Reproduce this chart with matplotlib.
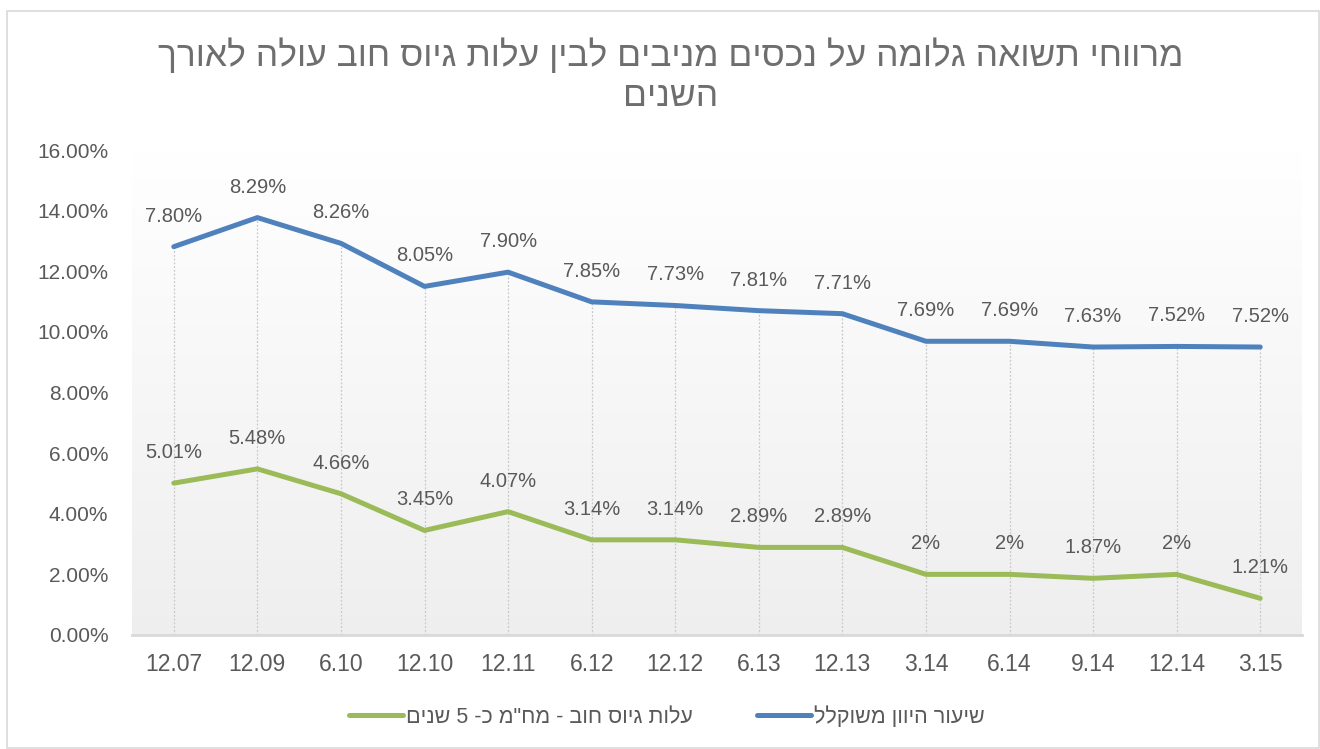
import numpy as np
from matplotlib import pyplot as plt
from matplotlib.patches import Rectangle

# categories (periods)
periods = ['12.07', '12.09', '6.10', '12.10', '12.11', '6.12', '12.12',
           '6.13', '12.13', '3.14', '6.14', '9.14', '12.14', '3.15']

# debt raising cost ~5 yr duration (%)
debt_cost = [5.01, 5.48, 4.66, 3.45, 4.07, 3.14, 3.14, 2.89, 2.89, 2.00, 2.00, 1.87, 2.00, 1.21]
debt_labels = ['5.01%', '5.48%', '4.66%', '3.45%', '4.07%', '3.14%', '3.14%',
               '2.89%', '2.89%', '2%', '2%', '1.87%', '2%', '1.21%']

# weighted discount rate, as plotted (%)
disc_rate = [12.81, 13.77, 12.92, 11.50, 11.97, 10.99, 10.87, 10.70, 10.60, 9.69, 9.69, 9.50, 9.52, 9.50]
disc_labels = ['7.80%', '8.29%', '8.26%', '8.05%', '7.90%', '7.85%', '7.73%',
               '7.81%', '7.71%', '7.69%', '7.69%', '7.63%', '7.52%', '7.52%']

yticks = [0, 2, 4, 6, 8, 10, 12, 14, 16]

title_1 = 'מרווחי תשואה גלומה על נכסים מניבים לבין עלות גיוס חוב עולה לאורך'
title_2 = 'השנים'
name_debt = 'עלות גיוס חוב - מח"מ כ- 5 שנים'
name_disc = 'שיעור היוון משוקלל'


def heb(s):
    # matplotlib has no bidi support, so reverse for visual order
    return s[::-1]


plt.rcParams['font.family'] = ['Liberation Sans', 'DejaVu Sans']
text_col = '#595959'
blue = '#4f81bd'
green = '#9bbb59'

fig = plt.figure(figsize=(13.2, 7.49), dpi=100)
fig.patches.append(Rectangle((7 / 1320, 0.001), 1 - 7 / 1320 - 0.001, 1 - 11 / 749 - 0.001,
                             transform=fig.transFigure, fill=False,
                             edgecolor='#d9d9d9', linewidth=1.2))

ax = fig.add_axes([132 / 1320, 1 - 635 / 749, 1170 / 1320, 485 / 749])
x = np.arange(len(periods))

# background gradient of the plot area
grad = np.linspace(1.0, 0.935, 256).reshape(-1, 1)
ax.imshow(np.dstack([grad, grad, grad]), extent=(-0.5, len(periods) - 0.5, 0, 16),
          aspect='auto', zorder=0)

# drop lines
ax.vlines(x, 0, disc_rate, colors='#c8c8c8', linestyles=(0, (1.5, 1.5)), linewidth=0.9, zorder=1)

l_debt, = ax.plot(x, debt_cost, color=green, linewidth=3.6, solid_capstyle='round', zorder=3)
l_disc, = ax.plot(x, disc_rate, color=blue, linewidth=3.6, solid_capstyle='round', zorder=3)

for i in range(len(periods)):
    ax.annotate(disc_labels[i], (x[i], disc_rate[i]), xytext=(0, 22), textcoords='offset points',
                ha='center', va='center', fontsize=14.5, color=text_col)
    ax.annotate(debt_labels[i], (x[i], debt_cost[i]), xytext=(0, 22), textcoords='offset points',
                ha='center', va='center', fontsize=14.5, color=text_col)

ax.set_xlim(-0.5, len(periods) - 0.5)
ax.set_ylim(0, 16)
ax.set_xticks(x)
ax.set_xticklabels(periods, fontsize=16.5, color=text_col)
ax.set_yticks(yticks)
ax.set_yticklabels(['%.2f%%' % v for v in yticks], fontsize=15, color=text_col)
ax.tick_params(axis='both', length=0)
ax.tick_params(axis='x', pad=13)
ax.tick_params(axis='y', pad=17)
for s in ['top', 'right', 'left']:
    ax.spines[s].set_visible(False)
ax.spines['bottom'].set_color('#d9d9d9')
ax.spines['bottom'].set_linewidth(2)
ax.spines['bottom'].set_zorder(2)

fig.text(671 / 1320, 1 - 55 / 749, heb(title_1), ha='center', va='center', fontsize=25.5, color='#6e6e6e')
fig.text(671 / 1320, 1 - 97 / 749, heb(title_2), ha='center', va='center', fontsize=25.5, color='#6e6e6e')

fig.legend([l_debt, l_disc], [heb(name_debt), heb(name_disc)], loc='center',
           bbox_to_anchor=(667 / 1320, 1 - 717 / 749), ncol=2, frameon=False,
           fontsize=15.5, labelcolor=text_col, handlelength=2.5, handletextpad=0.15,
           columnspacing=3.0)

plt.savefig('out.png', dpi=100)
plt.close()
